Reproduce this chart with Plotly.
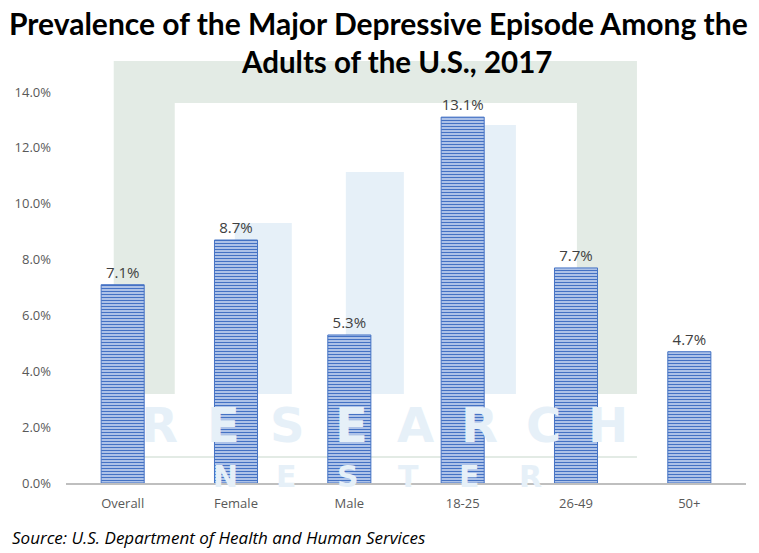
import plotly.graph_objects as go

categories = ["Overall", "Female", "Male", "18-25", "26-49", "50+"]
values = [7.1, 8.7, 5.3, 13.1, 7.7, 4.7]
value_labels = ["7.1%", "8.7%", "5.3%", "13.1%", "7.7%", "4.7%"]
tick_vals = [0, 2, 4, 6, 8, 10, 12, 14]
tick_text = ["0.0%", "2.0%", "4.0%", "6.0%", "8.0%", "10.0%", "12.0%", "14.0%"]
title_lines = ["Prevalence of the Major Depressive Episode Among the", "Adults of the U.S., 2017"]
source_text = "Source: U.S. Department of Health and Human Services"

W_IMG, H_IMG = 759, 553
L, R, T, B = 66.3, 13, 92, 70  # in image pixels
PW = W_IMG - L - R
PH = H_IMG - T - B
BOTTOM_PX = H_IMG - B


def px(x):
    return (x - L) / PW


def py(y):
    return (BOTTOM_PX - y) / PH


fig = go.Figure()
fig.add_trace(go.Bar(
    x=categories, y=values, text=value_labels, textposition="outside",
    textfont=dict(family="Open Sans, sans-serif", size=15, color="#404040"),
    cliponaxis=False, width=0.38,
    marker=dict(color="#B7CAEC", line=dict(color="#4472C4", width=1),
                pattern=dict(shape="-", fgcolor="#4472C4", bgcolor="#C3D3F0",
                             size=3, solidity=0.45, fillmode="replace")),
    hoverinfo="skip",
))

green = "#E3EBE5"
blue = "#E6F0F8"
shapes = []
shapes.append(dict(type="rect", xref="paper", yref="paper", x0=px(114), x1=px(637),
                   y0=py(394), y1=py(61), fillcolor=green, line=dict(width=0), layer="below"))
shapes.append(dict(type="rect", xref="paper", yref="paper", x0=px(175), x1=px(577),
                   y0=py(394), y1=py(103), fillcolor="white", line=dict(width=0), layer="below"))
for x0, x1, y1 in [(235, 292, 223), (346, 404, 172), (482, 516, 125)]:
    shapes.append(dict(type="rect", xref="paper", yref="paper", x0=px(x0), x1=px(x1),
                       y0=py(394), y1=py(y1), fillcolor=blue, line=dict(width=0), layer="below"))
shapes.append(dict(type="line", xref="paper", yref="paper", x0=px(128), x1=px(637),
                   y0=py(457), y1=py(457), line=dict(color=green, width=2), layer="below"))

annotations = []
for i, ch in enumerate("RESEARCH"):
    annotations.append(dict(text=ch, xref="paper", yref="paper", x=px(160 + 64 * i), y=py(425),
                            showarrow=False, xanchor="center", yanchor="middle",
                            font=dict(family="DejaVu Sans, sans-serif", size=48, color=blue, weight="bold")))
for i, ch in enumerate("NESTER"):
    annotations.append(dict(text=ch, xref="paper", yref="paper", x=px(226 + 61 * i), y=py(476),
                            showarrow=False, xanchor="center", yanchor="middle",
                            font=dict(family="DejaVu Sans, sans-serif", size=30, color=blue, weight="bold")))

# title lines
for line, xc, yc, fs in zip(title_lines, [379, 397], [23, 61], [30, 29.5]):
    annotations.append(dict(text="<b>" + line + "</b>", xref="paper", yref="paper",
                            x=px(xc), y=py(yc), xanchor="center", yanchor="middle", showarrow=False,
                            borderpad=0,
                            font=dict(family="Lato, sans-serif", size=fs, color="#000000")))

annotations.append(dict(text="<i>" + source_text + "</i>",
                        xref="paper", yref="paper", x=px(10), y=py(537), xanchor="left", yanchor="middle",
                        showarrow=False,
                        font=dict(family="Open Sans, sans-serif", size=17, color="#000000")))

fig.update_layout(
    width=W_IMG, height=H_IMG,
    margin=dict(l=L, r=R, t=T, b=B, pad=0, autoexpand=False),
    paper_bgcolor="white", plot_bgcolor="rgba(0,0,0,0)",
    showlegend=False,
    shapes=shapes,
    annotations=annotations,
)
fig.update_xaxes(showgrid=False, showline=True, linecolor="#BFBFBF", linewidth=1.5,
                 ticks="", tickfont=dict(family="Open Sans, sans-serif", size=13, color="#595959"),
                 ticklabelstandoff=8, automargin=False)
fig.update_yaxes(range=[0, 14], tickvals=tick_vals, ticktext=tick_text, showgrid=False,
                 zeroline=False, showline=False, ticks="",
                 tickfont=dict(family="Open Sans, sans-serif", size=13, color="#595959"),
                 ticklabelstandoff=14, automargin=False)

fig.write_html("out.html", config={"displayModeBar": False},
               post_script="document.body.style.margin='0';document.body.style.overflow='hidden';")
